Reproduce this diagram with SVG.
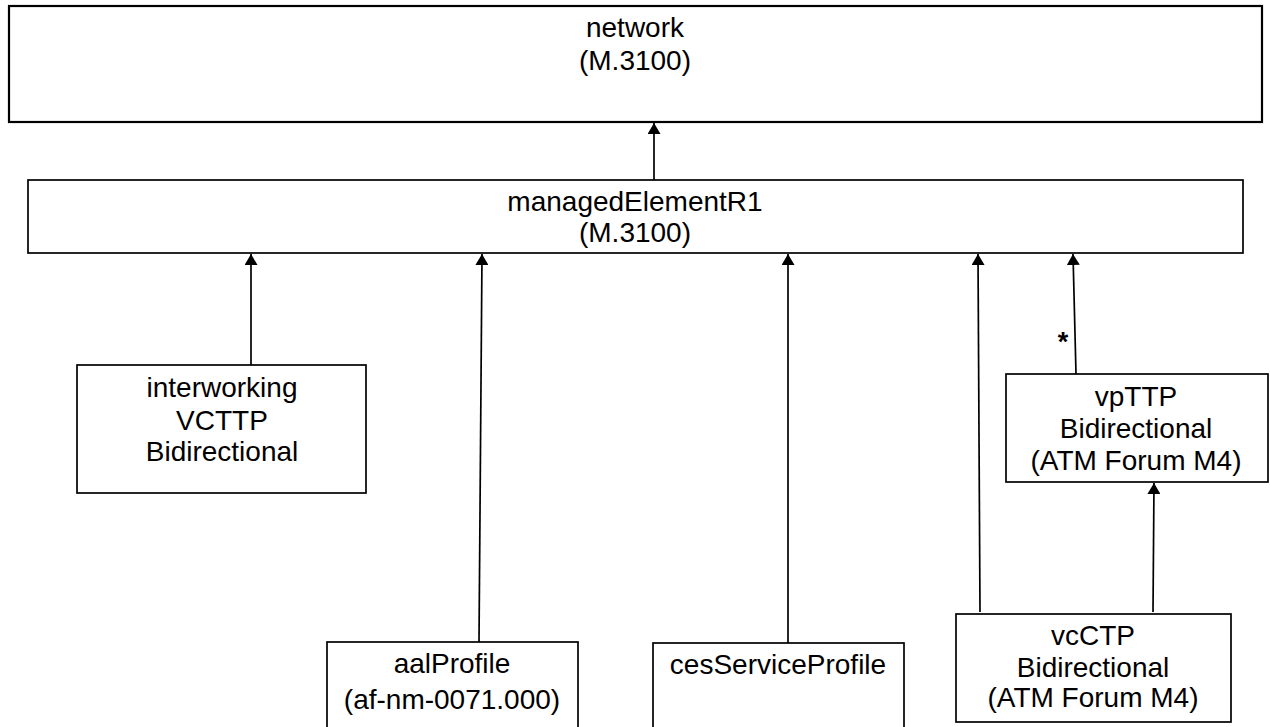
<svg xmlns="http://www.w3.org/2000/svg" width="1270" height="727" viewBox="0 0 1270 727">
<style>
.box{fill:#fff;stroke:#000;stroke-width:1.7}
.big{stroke-width:2.2}
text{font-family:"Liberation Sans",Arial,sans-serif;font-size:28px;fill:#000;text-anchor:middle}
.conn{stroke:#000;stroke-width:1.7;fill:none}
</style>
<defs>
<marker id="arr" viewBox="0 0 11 13" refX="11" refY="6.5" markerWidth="11" markerHeight="13" markerUnits="userSpaceOnUse" orient="auto">
<path d="M0,0 L11,6.5 L0,13 z" fill="#000"/>
</marker>
</defs>
<g id="network">
<rect class="box big" x="9" y="6" width="1253" height="116"/>
<text x="635" y="37">network</text>
<text x="635" y="70">(M.3100)</text>
</g>
<g id="managedElementR1">
<rect class="box" x="28" y="180" width="1215" height="73"/>
<text x="635" y="211">managedElementR1</text>
<text x="635" y="242">(M.3100)</text>
</g>
<g id="interworkingVCTTP">
<rect class="box" x="77" y="365" width="289" height="128"/>
<text x="222" y="397">interworking</text>
<text x="222" y="430">VCTTP</text>
<text x="222" y="461">Bidirectional</text>
</g>
<g id="aalProfile">
<rect class="box" x="327" y="642" width="251" height="100"/>
<text x="452" y="673">aalProfile</text>
<text x="452" y="709">(af-nm-0071.000)</text>
</g>
<g id="cesServiceProfile">
<rect class="box" x="653" y="643" width="251" height="100"/>
<text x="778" y="674">cesServiceProfile</text>
</g>
<g id="vpTTP">
<rect class="box" x="1006" y="374" width="262" height="108"/>
<text x="1136" y="406">vpTTP</text>
<text x="1136" y="438">Bidirectional</text>
<text x="1136" y="470">(ATM Forum M4)</text>
</g>
<g id="vcCTP">
<rect class="box" x="956" y="614" width="275" height="108"/>
<text x="1093" y="645">vcCTP</text>
<text x="1093" y="677">Bidirectional</text>
<text x="1093" y="707">(ATM Forum M4)</text>
</g>
<g id="connectors">
<line class="conn" x1="654" y1="180" x2="654" y2="123" marker-end="url(#arr)"/>
<line class="conn" x1="251" y1="365" x2="251" y2="254" marker-end="url(#arr)"/>
<line class="conn" x1="479" y1="642" x2="482" y2="254" marker-end="url(#arr)"/>
<line class="conn" x1="788" y1="643" x2="788" y2="254" marker-end="url(#arr)"/>
<line class="conn" x1="980" y1="612" x2="978" y2="254" marker-end="url(#arr)"/>
<line class="conn" x1="1076" y1="374" x2="1073" y2="254" marker-end="url(#arr)"/>
<line class="conn" x1="1153" y1="612" x2="1154" y2="483" marker-end="url(#arr)"/>
<text x="1063" y="351" style="font-weight:bold;font-size:27px">*</text>
</g>
</svg>
